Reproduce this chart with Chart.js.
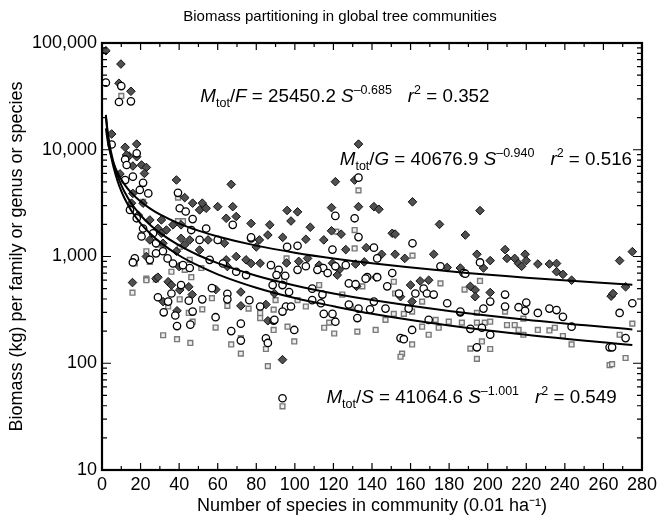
<!DOCTYPE html>
<html>
<head>
<meta charset="utf-8">
<script src="https://cdn.jsdelivr.net/npm/chart.js@4.4.0/dist/chart.umd.min.js"></script>
<style>
  html, body { margin: 0; padding: 0; background: #fff; }
  canvas { display: block; }
</style>
</head>
<body>
<canvas id="biomassChart" width="661" height="519"></canvas>
<script>
// [species in community, biomass kg]
const familyPts = [
  [2,84700],[9.8,63500],[8.8,42000],[15,35300],[5,14050],[12,10540],[18,11300],[14,8740],
  [12.7,8930],[18,8600],[9.3,5940],[20.5,7200],[23,6830],[22,6000],[16,7040],[38.6,5210],[67,4740],
  [42.9,3560],[47,3160],[52,3160],[60,2930],[67.8,2930],[64.4,2280],[69.6,2370],[77.3,2040],[50.6,2730],
  [54,2830],[36.8,1980],[41,1980],[30.8,2200],[24.8,2200],[29,1830],[33.4,1770],[21.3,3160],[16,3900],
  [15.3,3160],[18.8,2440],[45.5,1430],[41,1480],[55,1430],[63.5,1330],[50.6,1150],[42.9,1290],[38.6,1120],
  [24.8,1430],[30.8,1650],[31.6,1330],[74.7,930],[77.3,860],[69.6,1000],[80,1230],[64.4,930],[17,930],
  [23,1000],[28,620],[40,805],[65,805],
  [15.8,570],[29,640],[31.7,378],[34.3,580],[36,540],[38.9,310],[40.3,486],[45,520],[46.8,440],[59,490],
  [72,345],[72,465],[86,250],[85,355],[89.4,450],
  [133,11300],[121,5020],[131,5200],[161,3250],[96,2700],[101.4,2620],[98,2150],[119,2870],[133,2930],
  [141,2930],[143.6,2770],[175,2000],[87,1980],[108,1880],[119,1740],[124,1620],[86,1590],[93.7,1510],
  [105.7,1450],[115,1430],[150.5,1650],[152,1620],[81.6,1430],[126.4,1160],[145,1050],[137,1210],[152,1050],
  [157,960],[172,1050],[179,790],[82,865],[95.7,870],[102,900],[106.6,960],[112.6,830],[119.5,865],[123,750],
  [131.5,850],[136,890],[142,640],[169.4,600],[160,540],
  [122,670],[132,525],[165,590],[154.8,420],[160.8,378],[93.6,108],
  [194.4,1050],[201.3,915],[210,960],[214,960],[216,860],[217.6,810],[219.4,1050],[220,915],[226,850],
  [232,850],[235.7,860],[235.7,720],[239,680],[243.5,600],[268.4,915],[275,1110],[197.8,780],[185.8,780],
  [191,525],[193.5,486],[201.3,460],[193.5,420],[264,425],[265,450],[271.5,520],
  [196,2690],[188.4,1590],[209,1160]
];

const genusPts = [
  [2,42500],[10,39500],[8.8,28000],[15,28400],[5,11200],[18,9260],[12,8110],
  [12.8,7200],[12,5200],[16,5600],[21.3,4900],[24,3900],[19.6,4200],[14.5,2730],[18,2280],[39.4,3950],
  [40.3,2830],[43.4,2640],[47,2240],[46.3,1770],[54,1830],[67.8,1980],[60,1430],[50.6,1430],[77.3,1480],
  [21.3,1830],[26.5,1650],[20.5,1540],[28,1330],[31.6,1120],[24.8,930],[28,1070],[34,960],[42,830],
  [45.5,780],[55.8,930],[62.7,860],[69.6,720],[74.7,670],[17,960],[36.8,860],
  [16,880],[29,415],[34.3,378],[32,300],[38,280],[38.9,223],[41,540],[45,386],[47,305],[45.8,230],[52,397],
  [58.9,270],[57,505],[65,448],[65,397],[67,200],[72,235],[72,163],[76.4,390],[82,340],[85,171],[86,155],
  [89,250],[88.5,540],[36,450],
  [133,5480],[121,2400],[131,2280],[133,1520],[77.3,1510],[96,1230],[101.4,1260],[119.5,1160],[141,1210],
  [161,1330],[175.5,810],[87.6,830],[91.6,750],[105.7,810],[114.7,780],[121,810],[126.4,830],[142.7,960],
  [137.5,640],[150.5,700],[128,560],[131.5,550],[147.9,525],
  [95,660],[101.4,750],[111.7,750],[117,700],[136.7,620],[142.7,640],[166.8,500],[90.5,670],[93.6,540],
  [97,465],[109,500],[114.3,440],[154,450],[162.5,450],[168.5,450],[172,440],[179,365],[185.8,300],
  [95.4,340],[98,340],[109,390],[113.5,365],[115,290],[119.5,290],[121,245],[128,355],[133,325],[139,320],
  [147,325],[141,378],[159,325],[169.4,255],[160.8,205],[154.8,172],[156.5,168],[99.7,205],[89.4,255],
  [93.6,305],[132.4,265],[93.6,47],
  [196,880],[187.5,700],[201.3,378],[209,440],[275,365],[197.8,325],[209,340],[216,335],[220,370],
  [219.4,310],[226,296],[232,325],[235.7,315],[239,272],[243.5,220],[268.4,296],[185.8,305],[191,210],
  [197,215],[201.3,185],[194.4,141],[263.2,141],[264.5,141],[271.5,172],[188.4,690]
];

const speciesPts = [
  [10,31900],
  [21.3,3250],[39.4,3560],[42,2140],[39.4,2140],[20.5,1590],[40.3,1230],[45.5,930],[29,1290],[23,1120],
  [17,860],[24.8,890],[36,720],[42.9,750],[51.5,780],[23,620],[46.3,640],
  [15.8,458],[23,600],[27.9,610],[31.7,183],[38.9,168],[45.8,155],[40.3,397],[45,296],[47,245],[52,320],
  [58.9,216],[57,407],[65,345],[67,150],[72,123],[72,172],[76,325],[82,296],[82,265],[85,136],[86,94],
  [89,205],[89,318],[34.3,340],
  [133,4160],[131,1770],[121.5,1710],[95.7,960],[131,1190],[161,1020],[175.5,560],[151.3,580],
  [112.6,540],[124.6,440],[135,525],[152,450],[166,378],[188,490],[90,390],[101.4,390],[105.7,340],
  [117.8,240],[129,340],[147,255],[151.3,290],[156.5,290],[160.8,305],[173,255],[179.8,245],[174.6,215],
  [166,220],[160.8,150],[155.6,123],[154.8,115],[169.4,185],[99.7,160],[96.2,220],[132.4,198],[141.9,205],
  [120.4,190],[115.2,215],[93.6,39.5],[94.5,600],
  [209,305],[194.4,296],[196,590],[218.5,262],[186.6,240],[194.4,240],[198.5,240],[201.3,245],[210,228],
  [214,228],[216,205],[218.5,185],[226,205],[232,203],[234.8,215],[239,180],[243.5,150],[191,137],[197,160],
  [201.3,136],[194.4,110],[263.2,96],[264.5,98],[271.5,112],[268.4,185],[275,235]
];

// fitted power-law curves, values read at these S
const fitS       = [2, 3, 4, 5, 6, 8, 10, 12, 15, 20, 25, 30, 40, 50, 60, 80, 100, 120, 140, 180, 220, 275];
const fitFamily  = [15830, 11990, 9850, 8450, 7460, 6124, 5256, 4640, 3983, 3270, 2807, 2477, 2034, 1746, 1540, 1264, 1086, 958, 863, 726, 632, 543];
const fitGenus   = [21200, 14485, 11050, 8961, 7550, 5760, 4670, 3934, 3189, 2435, 1973, 1664, 1269, 1028, 867, 661, 536, 451, 391, 309, 256, 207];
const fitSpecies = [20530, 13680, 10260, 8210, 6840, 5130, 4097, 3420, 2730, 2046, 1641, 1363, 1022, 820, 681, 510, 408, 342, 291, 226, 185, 148];

const xTicks = [0, 20, 40, 60, 80, 100, 120, 140, 160, 180, 200, 220, 240, 260, 280];
const yTicks = [10, 100, 1000, 10000, 100000];

const FONT = "'Liberation Sans', Arial, Helvetica, sans-serif";
Chart.defaults.font.family = FONT;
Chart.defaults.color = '#000';

// equation labels: anchor in data units (left edge, baseline)
const equations = [
  { s: 51, b: 28200, parts: [['M','i'],['tot','sub'],['/',''],['F','i'],[' = 25450.2 ',''],['S','i'],['\u20130.685','sup'],[16,'gap'],['r','i'],['2','sup'],[' = 0.352','']] },
  { s: 123.3, b: 7200, parts: [['M','i'],['tot','sub'],['/',''],['G','i'],[' = 40676.9 ',''],['S','i'],['\u20130.940','sup'],[16,'gap'],['r','i'],['2','sup'],[' = 0.516','']] },
  { s: 116.4, b: 42.2, parts: [['M','i'],['tot','sub'],['/',''],['S','i'],[' = 41064.6 ',''],['S','i'],['\u20131.001','sup'],[16,'gap'],['r','i'],['2','sup'],[' = 0.549','']] }
];

const toXY = pts => pts.map(p => ({ x: p[0], y: p[1] }));
const fitXY = vals => fitS.map((s, i) => ({ x: s, y: vals[i] }));

function drawRich(ctx, parts, x0, y0) {
  let cx = x0;
  parts.forEach(([t, st]) => {
    if (st === 'gap') { cx += t; return; }
    const small = st === 'sub' || st === 'sup';
    ctx.font = (st === 'i' ? 'italic ' : '') + (small ? '12.5px ' : '18.8px ') + FONT;
    const dy = st === 'sub' ? 5 : st === 'sup' ? -8 : 0;
    ctx.fillText(t, cx, y0 + dy);
    cx += ctx.measureText(t).width;
  });
}

const framePlugin = {
  id: 'framePlugin',
  afterDatasetsDraw(chart) {
    const { ctx, chartArea: a, scales: { x, y } } = chart;
    ctx.save();
    ctx.strokeStyle = '#000';
    ctx.lineWidth = 1.2;
    ctx.beginPath();
    for (let v = 0; v <= 280; v += 10) {
      const px = x.getPixelForValue(v);
      const len = v % 20 === 0 ? 7 : 4;
      ctx.moveTo(px, a.bottom); ctx.lineTo(px, a.bottom - len);
      ctx.moveTo(px, a.top); ctx.lineTo(px, a.top + len);
    }
    for (let d = 10; d < 100000; d *= 10) {
      for (let k = 1; k < 10; k++) {
        const py = y.getPixelForValue(d * k);
        const len = k === 1 ? 9 : 5;
        ctx.moveTo(a.left, py); ctx.lineTo(a.left + len, py);
        ctx.moveTo(a.right, py); ctx.lineTo(a.right - len, py);
      }
    }
    ctx.stroke();
    ctx.lineWidth = 2.2;
    ctx.strokeRect(a.left, a.top, a.right - a.left, a.bottom - a.top);

    // chart title
    ctx.fillStyle = '#000';
    ctx.font = '15px ' + FONT;
    ctx.textAlign = 'center';
    ctx.textBaseline = 'middle';
    ctx.fillText('Biomass partitioning in global tree communities', 340, 17);

    // equations
    ctx.textAlign = 'left';
    ctx.textBaseline = 'alphabetic';
    equations.forEach(eq => {
      drawRich(ctx, eq.parts, x.getPixelForValue(eq.s), y.getPixelForValue(eq.b));
    });
    ctx.restore();
  }
};

const ctx = document.getElementById('biomassChart').getContext('2d');
new Chart(ctx, {
  type: 'scatter',
  data: {
    datasets: [
      { label: 'Family fit', data: fitXY(fitFamily), showLine: true, pointRadius: 0, borderColor: '#000', borderWidth: 2, cubicInterpolationMode: 'monotone', order: 0 },
      { label: 'Genus fit', data: fitXY(fitGenus), showLine: true, pointRadius: 0, borderColor: '#000', borderWidth: 2, cubicInterpolationMode: 'monotone', order: 0 },
      { label: 'Species fit', data: fitXY(fitSpecies), showLine: true, pointRadius: 0, borderColor: '#000', borderWidth: 2, cubicInterpolationMode: 'monotone', order: 0 },
      { label: 'Genus', data: toXY(genusPts), pointStyle: 'circle', pointRadius: 3.7, backgroundColor: '#fff', borderColor: '#000', borderWidth: 1.3, order: 1 },
      { label: 'Family', data: toXY(familyPts), pointStyle: 'rectRot', pointRadius: 4.3, backgroundColor: '#505050', borderColor: '#111', borderWidth: 1, order: 2 },
      { label: 'Species', data: toXY(speciesPts), pointStyle: 'rect', pointRadius: 3.4, backgroundColor: '#eeeeee', borderColor: '#7a7a7a', borderWidth: 1.4, order: 3 }
    ]
  },
  options: {
    responsive: false,
    animation: false,
    layout: { padding: { top: 43, right: 17, left: 0, bottom: 0 } },
    plugins: { legend: { display: false }, tooltip: { enabled: false }, title: { display: false } },
    scales: {
      x: {
        type: 'linear', min: 0, max: 280,
        afterFit: s => { s.height = 49; },
        afterBuildTicks: s => { s.ticks = xTicks.map(v => ({ value: v })); },
        grid: { display: false, drawTicks: false },
        border: { display: false },
        ticks: { font: { size: 18 }, color: '#000', padding: 4, maxRotation: 0, autoSkip: false },
        title: { display: true, text: 'Number of species in community (0.01 ha\u207B\u00B9)', font: { size: 18 }, color: '#000', padding: { top: 0, bottom: 2 } }
      },
      y: {
        type: 'logarithmic', min: 10, max: 100000,
        afterFit: s => { s.width = 102; },
        afterBuildTicks: s => { s.ticks = yTicks.map(v => ({ value: v })); },
        grid: { display: false, drawTicks: false },
        border: { display: false },
        ticks: { font: { size: 18 }, color: '#000', padding: 5, autoSkip: false, callback: v => Number(v).toLocaleString('en-US') },
        title: { display: true, text: 'Biomass (kg) per family or genus or species', font: { size: 18 }, color: '#000', padding: { top: 6, bottom: 0 } }
      }
    }
  },
  plugins: [framePlugin]
});
</script>
</body>
</html>
